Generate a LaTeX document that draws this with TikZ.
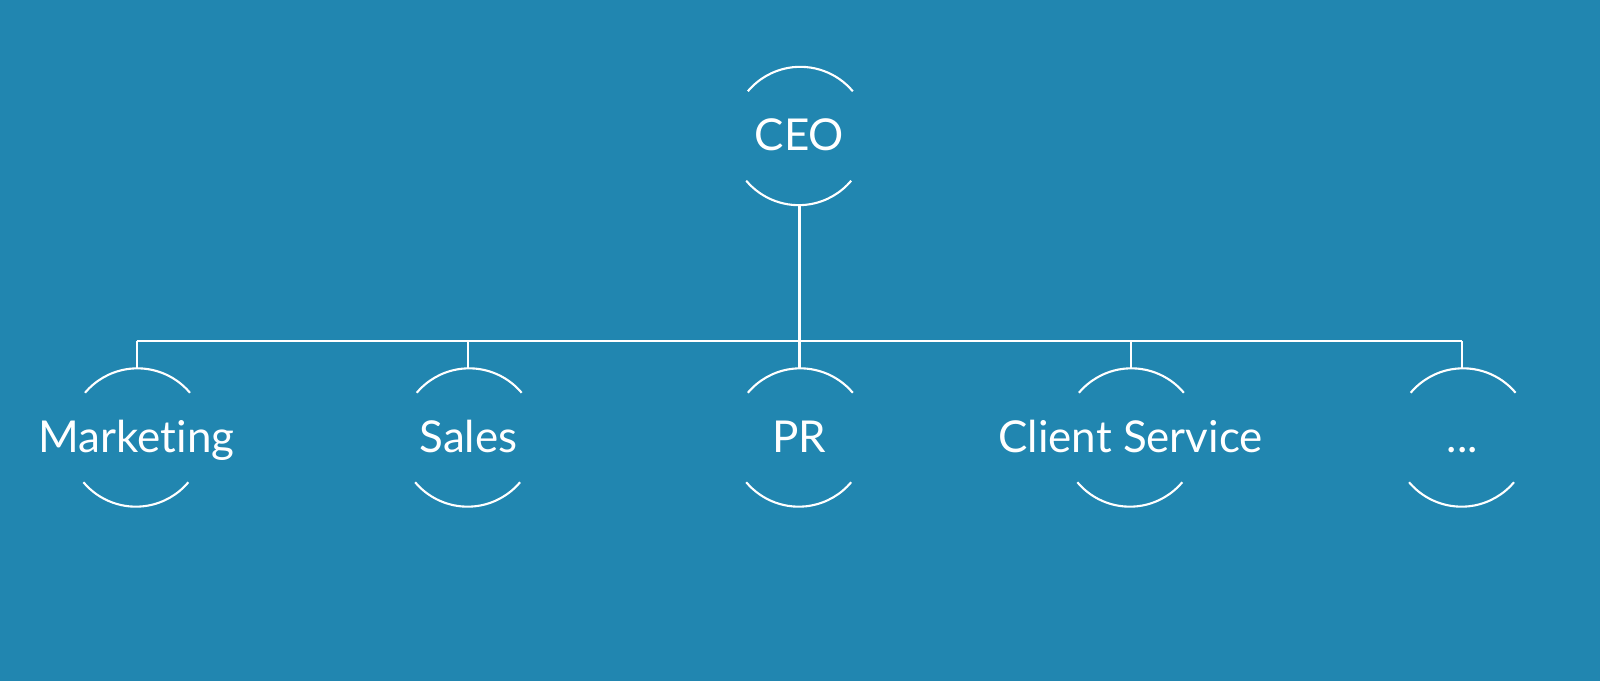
\documentclass[tikz,border=0pt]{standalone}
\usepackage{fontspec}
\setmainfont{Lato}[Ligatures=NoCommon]
\definecolor{bgblue}{RGB}{33,134,176}
\tikzset{
  unit/.style={circle,minimum size=1.37cm,inner sep=0pt},
  unitname/.style={text=white,text height=0.75em,text depth=0.2em,yshift=-0.05cm,
    font=\fontsize{12.5}{14}\selectfont},
}
\newcommand{\rr}{0.685}
\begin{document}
\begin{tikzpicture}[white,line width=0.6pt]
	\fill[bgblue] (0,0) rectangle (16,6.81);
	\useasboundingbox (0,0) rectangle (16,6.81);
	
	% boxes
	\node[unit] (ceo) at (7.995,5.45) {};
	\node[unit] (marketing) at (1.367,2.435) {};
	\node[unit] (sales) at (4.684,2.435) {};
	\node[unit] (pr) at (7.995,2.435) {};
	\node[unit] (client) at (11.306,2.435) {};
	\node[unit] (more) at (14.623,2.435) {};
	
	\node[unitname] at (ceo) {CEO};
	\node[unitname] at (marketing) {Marketing};
	\node[unitname] at (sales) {Sales};
	\node[unitname] at (pr) {PR};
	\node[unitname] at (client) {Client Service};
	\node[unitname] at (more) {...};
	
	\foreach \n in {ceo,marketing,sales,pr,client,more}
	{
		\draw (\n.40) arc (40:140:\rr);
		\draw (\n.220) arc (220:320:\rr);
	}
	
	% lines
	\coordinate (bar) at (0,3.40);
	\draw (ceo.south) -- (ceo.south |- bar);
	\draw (marketing.north |- bar) -- (more.north |- bar);
	\foreach \n in {marketing,sales,pr,client,more}
	{
		\draw (\n.north) -- (\n.north |- bar);
	}
	
\end{tikzpicture}
\end{document}
